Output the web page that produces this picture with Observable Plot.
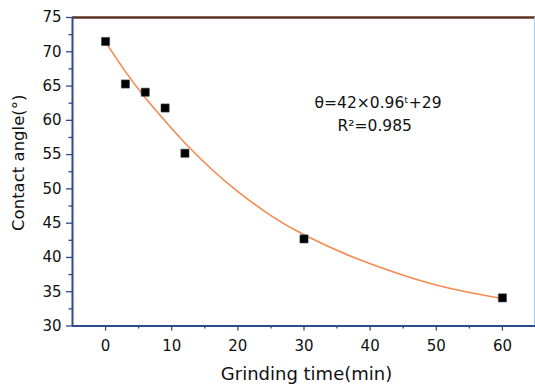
<!DOCTYPE html>
<html>
<head>
<meta charset="utf-8">
<script src="https://cdn.jsdelivr.net/npm/d3@7"></script>
<script src="https://cdn.jsdelivr.net/npm/@observablehq/plot@0.6"></script>
<style>
  html, body { margin: 0; padding: 0; background: #fff; }
  #chart { width: 535px; height: 387px; }
</style>
</head>
<body>
<div id="chart"></div>
<script>
// Measured points
const grindTime = [0, 3, 6, 9, 12, 30, 60];
const contactAngle = [71.5, 65.3, 64.1, 61.8, 55.2, 42.7, 34.1];

// Fitted curve
const fitTime = [0, 3, 6, 9, 12, 16, 20, 25, 30, 37, 45, 52, 60];
const fitAngle = [71.4, 67.1, 63.3, 59.9, 56.7, 52.9, 49.6, 46.1, 43.3, 40.2, 37.4, 35.5, 34.0];

// Ticks
const xTicks = [0, 10, 20, 30, 40, 50, 60];
const xMinor = [5, 15, 25, 35, 45, 55];
const yTicks = [30, 35, 40, 45, 50, 55, 60, 65, 70, 75];
const yMinor = [32.5, 37.5, 42.5, 47.5, 52.5, 57.5, 62.5, 67.5, 72.5];

// Texts
const xLabel = "Grinding time(min)";
const yLabel = "Contact angle(°)";
const annoText = ["θ=42×0.96ᵗ+29", "R²=0.985"];
const annoX = [41.2, 40.7];
const annoY = [62.55, 59.1];

const points = grindTime.map((t, i) => ({t, a: contactAngle[i]}));
const fit = fitTime.map((t, i) => ({t, a: fitAngle[i]}));
const anno = annoText.map((s, i) => ({s, x: annoX[i], y: annoY[i]}));

const blue = "#2d4b8e";
const font = "DejaVu Sans";

const chart = Plot.plot({
  width: 535,
  height: 387,
  marginLeft: 72,
  marginRight: 0,
  marginTop: 17,
  marginBottom: 61.5,
  style: {fontFamily: font, fontSize: "15px", color: "#111", background: "#fff"},
  x: {domain: [-5, 65]},
  y: {domain: [30, 75]},
  marks: [
    // minor ticks
    Plot.axisY(yMinor, {tickSize: 3.5, tickFormat: () => "", stroke: blue, strokeWidth: 1.3, label: null}),
    Plot.axisX(xMinor, {tickSize: 3, tickFormat: () => "", stroke: blue, strokeWidth: 1.3, label: null}),
    // major ticks
    Plot.axisY(yTicks, {tickSize: 6, tickPadding: 5, stroke: blue, strokeWidth: 1.3, fill: "#111", fontSize: 15, label: null}),
    Plot.axisX(xTicks, {tickSize: 5, tickPadding: 9, stroke: blue, strokeWidth: 1.3, fill: "#111", fontSize: 15, label: null}),
    // frame
    Plot.ruleY([75], {stroke: "#5b3222", strokeWidth: 2.5}),
    Plot.ruleX([65], {stroke: "#a9c7e6", strokeWidth: 1, dx: -1}),
    Plot.ruleX([-5], {stroke: blue, strokeWidth: 2}),
    Plot.ruleY([30], {stroke: blue, strokeWidth: 2}),
    // fit curve
    Plot.line(fit, {x: "t", y: "a", stroke: "#f58a4e", strokeWidth: 1.6, curve: "natural"}),
    // points
    Plot.dot(points, {x: "t", y: "a", symbol: "square", r: 4.6, fill: "#000", stroke: "#3a4a5a", strokeWidth: 0.6}),
    // annotation
    Plot.text(anno, {x: "x", y: "y", text: "s", fontSize: 15.5, fill: "#111", lineAnchor: "middle"}),
    // axis labels
    Plot.text([xLabel], {frameAnchor: "bottom", dx: 2.5, dy: 48.5, fontSize: 18, fill: "#111", textAnchor: "middle", lineAnchor: "middle"}),
    Plot.text([yLabel], {frameAnchor: "left", rotate: -90, dx: -54, dy: -9, fontSize: 16.5, fill: "#111", textAnchor: "middle", lineAnchor: "middle"})
  ]
});

document.getElementById("chart").appendChild(chart);
</script>
</body>
</html>
